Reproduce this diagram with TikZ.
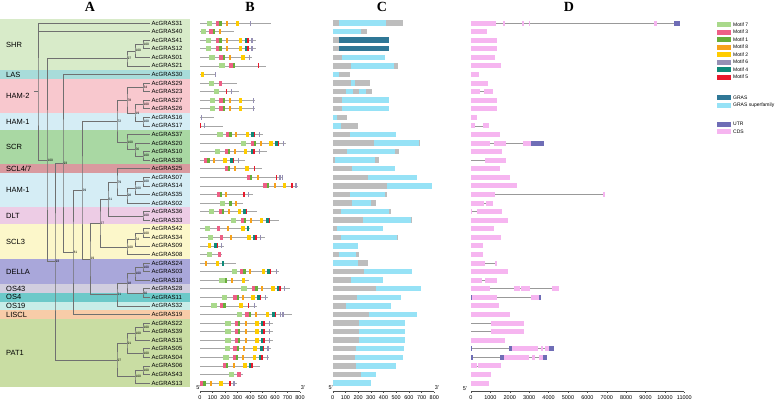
\documentclass[tikz,border=0pt]{standalone}
\usepackage{fontspec}
\setmainfont{Liberation Sans}
\newfontfamily\headfont{Liberation Serif}

\definecolor{treegray}{HTML}{707070}
\definecolor{bshr}{HTML}{D8EBC9}
\definecolor{blas}{HTML}{A8DCDA}
\definecolor{bhamtwo}{HTML}{F8C8CE}
\definecolor{bhamone}{HTML}{D5EDF5}
\definecolor{bscr}{HTML}{A9D8A3}
\definecolor{bsclf}{HTML}{D99A9F}
\definecolor{bdlt}{HTML}{EDCCE5}
\definecolor{bsclt}{HTML}{FCF7CA}
\definecolor{bdella}{HTML}{A9A7DA}
\definecolor{bosft}{HTML}{D1CEDF}
\definecolor{bosf}{HTML}{6CC9C9}
\definecolor{bosn}{HTML}{C8EDE8}
\definecolor{bliscl}{HTML}{F8CCA8}
\definecolor{bpat}{HTML}{C9DDA3}
\definecolor{mseven}{HTML}{A9D98B}
\definecolor{mthree}{HTML}{EE5F86}
\definecolor{mone}{HTML}{67AE3A}
\definecolor{meight}{HTML}{F7A21B}
\definecolor{mtwo}{HTML}{FFCC00}
\definecolor{msix}{HTML}{9690B4}
\definecolor{mfour}{HTML}{0E8A7A}
\definecolor{mfive}{HTML}{E8192C}
\definecolor{gras}{HTML}{2F7796}
\definecolor{grasfam}{HTML}{96E2F6}
\definecolor{utr}{HTML}{6F6DB6}
\definecolor{cds}{HTML}{F6B5F0}
\definecolor{barg}{HTML}{BDBDBD}

\begin{document}
\begin{tikzpicture}[x=1pt, y=-1pt,
    branch/.style={draw=treegray, line width=0.5pt},
    gname/.style={anchor=west, inner sep=0, font=\fontsize{6}{7}\selectfont},
    grp/.style={anchor=west, inner sep=0, font=\fontsize{7.5}{9}\selectfont},
    boot/.style={anchor=west, inner sep=0.3pt, font=\fontsize{3.3}{4}\selectfont},
    head/.style={font=\headfont\bfseries\fontsize{14}{16}\selectfont},
    motif/.style={anchor=west, inner sep=0, outer sep=0, minimum height=5pt},
    m7/.style={motif, fill=mseven, minimum width=5.3pt},
    m3/.style={motif, fill=mthree, minimum width=3.3pt},
    m1/.style={motif, fill=mone, minimum width=2.3pt},
    m8/.style={motif, fill=meight, minimum width=2pt},
    m2/.style={motif, fill=mtwo, minimum width=3.3pt},
    m6/.style={motif, fill=msix, minimum width=1.3pt},
    m4/.style={motif, fill=mfour, minimum width=2.7pt},
    m5/.style={motif, fill=mfive, minimum width=1.3pt},
    bline/.style={draw=black!35, line width=0.7pt},
    intron/.style={draw=black!40, line width=0.7pt},
    axline/.style={draw=black!70, line width=0.4pt},
    axlab/.style={inner sep=0, font=\fontsize{5.5}{6}\selectfont},
    lgd/.style={anchor=west, inner sep=0, font=\fontsize{5}{6}\selectfont}
]
\useasboundingbox (0,0) rectangle (777,402);

% subfamily bands
\foreach \g/\a/\b/\c in {SHR/1/6/bshr, LAS/7/7/blas, HAM-2/8/11/bhamtwo, HAM-1/12/13/bhamone,
    SCR/14/17/bscr, {SCL4/7}/18/18/bsclf, HAM-1/19/22/bhamone, DLT/23/24/bdlt, SCL3/25/28/bsclt,
    DELLA/29/31/bdella, OS43/32/32/bosft, OS4/33/33/bosf, OS19/34/34/bosn, LISCL/35/35/bliscl,
    PAT1/36/43/bpat} {
  \fill[\c] (0,{23+(\a-1)*60/7-30/7}) rectangle (190,{23+(\b-1)*60/7+30/7});
  \node[grp] (grp\a) at (6,{23+(\a+\b-2)*30/7}) {\g};
}

% headings
\node[head] (hA) at (90,7) {A};
\node[head] (hB) at (250,7) {B};
\node[head] (hC) at (382,7) {C};
\node[head] (hD) at (569,7) {D};

% leaves
\foreach \g [count=\i] in {31,40,41,12,01,21,30,29,23,27,26,16,17,37,20,10,38,25,07,14,35,02,
    36,33,42,34,09,08,24,03,18,28,11,32,19,22,39,15,05,04,06,43,13} {
  \coordinate (g\g) at (150,{23+(\i-1)*60/7});
  \node[gname] (t\g) at (151.5,{23+(\i-1)*60/7}) {AcGRAS\g};
}

% inner nodes with support values
\foreach \n/\x/\y/\b in {shrA/143/44.43/100, shrB/135/50.86/100, shrC/127/58.36/97,
    hamA/143/87.29/34, hamB/143/104.43/100, hamC/143/121.57/100, hamD/135/113.00/19,
    hamE/127/100.14/78, scrA/143/155.86/100, scrB/135/149.43/56, scrC/127/141.93/100,
    nodeK/117/121.04/72, hmA/143/181.57/100, hmB/135/188.00/100, hmC/127/195.50/98,
    hmD/117/182.10/79, dltA/143/215.86/100, nodeJ/108/198.98/61, sclA/143/233.00/100,
    sclB/135/239.43/54, sclC/127/246.93/100, nodeI/100/222.95/27, delA/143/267.29/100,
    delB/135/273.71/100, osA/143/293.00/60, delC/127/283.36/18, nodeH/117/294.61/21,
    nodeG/90/258.78/19, nodeF/82/189.91/29, nodeE/73/252.17/81, nodeD/63/163.30/93,
    patA/143/327.29/100, patB/135/333.71/100, patC/143/353.00/100, patD/127/343.36/91,
    patE/143/370.14/100, patF/135/376.57/100, patG/117/359.96/97, nodeC/55/261.63/93,
    nodeB/47/160.00/100} {
  \coordinate (\n) at (\x,\y);
  \node[boot] (\n-bs) at (\n) {\b};
}
\coordinate (root) at (38,91.5);
\coordinate (stub) at (34,91.5);

% tree
\foreach \p/\a/\b in {shrA/g41/g12, shrB/shrA/g01, shrC/shrB/g21, hamA/g29/g23, hamB/g27/g26,
    hamC/g16/g17, hamD/hamB/hamC, hamE/hamA/hamD, scrA/g10/g38, scrB/g20/scrA, scrC/g37/scrB,
    nodeK/hamE/scrC, hmA/g07/g14, hmB/hmA/g35, hmC/hmB/g02, hmD/g25/hmC, dltA/g36/g33,
    nodeJ/hmD/dltA, sclA/g42/g34, sclB/sclA/g09, sclC/sclB/g08, nodeI/nodeJ/sclC,
    delA/g24/g03, delB/delA/g18, osA/g28/g11, delC/delB/osA, nodeH/delC/g32,
    nodeG/nodeI/nodeH, nodeF/nodeK/nodeG, nodeE/nodeF/g19, nodeD/g30/nodeE,
    patA/g22/g39, patB/patA/g15, patC/g05/g04, patD/patB/patC, patE/g06/g43, patF/patE/g13,
    patG/patD/patF, nodeC/nodeD/patG, nodeB/shrC/nodeC, root/g31/nodeB}
  \draw[branch] (\a) -| (\p) |- (\b);
\draw[branch] (root |- g40) -- (g40);
\draw[branch] (stub) -- (root);

% B: conserved motifs
\foreach \r/\e/\ms in {
    1/270.7/{7/206.7,3/216,1/219.3,8/226,2/236,6/250},
    2/234/{7/200.7,3/209.3,1/212.7,8/219.3},
    3/256/{7/206,3/216,1/219.3,8/226,2/238.7,4/244.7,5/247.4,6/251.3},
    4/256/{7/206,3/216,1/219.3,8/226,2/238.7,4/244.7,5/247.4,6/251.3},
    5/251.7/{7/209.3,3/219.3,1/222.6,8/228.7,2/241.3,6/248.7},
    6/266/{7/219.3,3/229.3,1/232.6,5/258},
    7/216/{2/200.7,6/214.7},
    8/236.7/{7/208.7,3/218.7},
    9/239.3/{7/214,5/226,6/230.7},
    10/254.7/{7/210,3/219.3,1/222.6,8/228.7,2/238.7,6/252.7},
    11/254.7/{7/210,3/219.3,1/222.6,8/228.7,2/238.7,6/252.7},
    12/214/{6/200.7},
    13/222.7/{5/200,6/204},
    14/263.3/{7/217.3,3/226,1/229.3,8/235.3,2/246,4/251.3,5/254,6/258.7},
    15/286/{7/240.7,3/250.7,1/254,8/260,2/269.3,4/275.3,5/278,6/282.7},
    16/267.3/{7/214.7,3/224.7,1/228,8/234,2/244,4/250.7,5/253.4,6/258.7},
    17/245/{3/204,1/207.3,8/213.3,2/223.3,4/230,5/232.7,6/238},
    18/261.7/{3/224.7,1/228,8/234,2/245.3,5/254},
    19/283.3/{3/246.7,1/250,8/256.7,5/276,6/279.3,6/281.6},
    20/298.3/{3/263.3,1/266.6,8/274,2/282.7,5/291.3,6/295.3},
    21/253.3/{3/216.7,1/220,8/225.3,5/243.3,6/248},
    22/242.7/{7/220,1/229.3,8/235.3},
    23/257.3/{7/208.7,3/218.7,1/222,8/228,2/238,4/243.3,5/246},
    24/279.3/{7/230.7,3/240.7,1/244,8/250,2/260,4/266,5/268.7},
    25/250/{7/204.7,3/216.7,8/226.7,2/241.3,4/246.7},
    26/265/{7/208,3/220,8/230,2/247.3,4/252.7,5/255.4,6/260},
    27/224/{2/208,4/214,5/216.7,6/220.7},
    28/221.7/{7/206.7,3/218},
    29/236/{8/205,2/216,4/221.7},
    30/279.3/{7/232,3/240,1/243.3,8/249.3,2/262,4/267.3,5/270,6/276},
    31/249.3/{7/219.3,1/224.7,8/230.7,2/242},
    32/290/{7/241.3,3/252,1/255.3,8/261.3,2/271.3,4/276.7,5/279.4,6/284},
    33/268.3/{7/222,3/233.3,1/236.6,8/242,2/251.3,4/257.3,5/260,6/264.7},
    34/257.3/{7/211.3,3/220,1/223.3,2/239.3,5/248,6/254},
    35/292/{7/236.7,3/245.3,1/248.6,8/255.3,2/266,4/272,5/274.7,6/280,6/282.3},
    36/273.3/{7/225.3,3/234.7,1/238,8/244.7,2/255.3,4/260.7,5/263.4,6/268.7},
    37/273.3/{7/225.3,3/234.7,1/238,8/244.7,2/255.3,4/260.7,5/263.4,6/268.7},
    38/273.3/{7/225.3,3/234.7,1/238,8/244.7,2/255.3,4/260.7,5/263.4,6/268.7},
    39/270.7/{7/224.7,3/233.3,1/236.6,8/243.3,2/253.3,4/260,5/262.7,6/267.3},
    40/269.3/{7/223.3,3/232.7,1/236,8/242,2/252.7,4/258.7,5/261.4,6/266.7},
    41/260/{3/222.7,1/226,8/232.7,2/243.3,4/248.7,5/251.4},
    42/243.3/{7/228.7,3/237.3},
    43/237.3/{3/200,1/203.3,8/210,2/219.3,5/229.3,6/233.3}} {
  \pgfmathsetmacro\y{23+(\r-1)*60/7}
  \draw[bline] (200,\y) -- (\e,\y);
  \foreach \m/\x in \ms {\node[m\m] (b\r-\m) at (\x,\y) {};}
}

% C: domains
\foreach \r/\e/\ss in {
    1/403.3/{grasfam/339.3/386}, 2/367.3/{grasfam/332.7/360.7}, 3/389.3/{gras/339.3/388.7},
    4/389.3/{gras/339.3/388.7}, 5/385/{grasfam/342/385}, 6/398.3/{grasfam/351.3/394},
    7/350/{grasfam/332.7/338.7}, 8/370/{grasfam/351.3/355},
    9/372.3/{grasfam/346/352.7,grasfam/359.3/366}, 10/388.7/{grasfam/342/388.7},
    11/388.7/{grasfam/342/388.7}, 12/346.7/{grasfam/332.7/337.3}, 13/358.3/{grasfam/332.7/341.3},
    14/396/{grasfam/350/396}, 15/420/{grasfam/374/419.3}, 16/399.3/{grasfam/347.3/395},
    17/378.7/{grasfam/334.7/374.7}, 18/395.3/{grasfam/352/395.3}, 19/417.3/{grasfam/368/417.3},
    20/432/{grasfam/386.7/432}, 21/387.3/{grasfam/350/384.7}, 22/376/{grasfam/352/370.7},
    23/390.7/{grasfam/341.3/389.3}, 24/412/{grasfam/363.3/411.3}, 25/383.3/{grasfam/337.3/383.3},
    26/398/{grasfam/340.7/397.3}, 27/358.3/{grasfam/332.7/358.3}, 28/358.7/{grasfam/339.3/356},
    29/368.3/{grasfam/332.7/358}, 30/412/{grasfam/364/412}, 31/382.7/{grasfam/350.7/382.7},
    32/421.3/{grasfam/376/421.3}, 33/401.3/{grasfam/357.3/401.3}, 34/391.3/{grasfam/346/391.3},
    35/416.7/{grasfam/368.7/416.7}, 36/405.3/{grasfam/358.7/405.3}, 37/405.3/{grasfam/358.7/405.3},
    38/405.3/{grasfam/358.7/405.3}, 39/404/{grasfam/356/404}, 40/403.3/{grasfam/355.3/403.3},
    41/396.3/{grasfam/356/396.3}, 42/376/{grasfam/361.3/376}, 43/370.7/{grasfam/332.7/370.7}} {
  \pgfmathsetmacro\y{23+(\r-1)*60/7}
  \fill[barg] (332.7,\y-2.65) rectangle (\e,\y+2.65);
  \foreach \t/\a/\b in \ss {\fill[\t] (\a,\y-2.65) rectangle (\b,\y+2.65);}
}

% D: gene structure
\foreach \r/\e/\bx in {
    1/680/{cds/471/496,cds/503.3/504.5,cds/522.3/524,cds/528.7/529.8,cds/654.3/656.7,utr/674/680},
    2/486.7/{cds/471/486.7}, 3/496.7/{cds/471/496.7}, 4/496.7/{cds/471/496.7},
    5/495/{cds/471/495}, 6/501.3/{cds/471/501.3}, 7/479/{cds/471/479}, 8/488/{cds/471/488},
    9/493.3/{cds/471/480,cds/484/493.3}, 10/496.7/{cds/471/496.7}, 11/496.7/{cds/471/496.7},
    12/477.3/{cds/471/477.3}, 13/489.3/{cds/471/475.3,cds/483.3/489.3}, 14/500/{cds/471/500},
    15/544/{cds/471/490,cds/494/506,cds/522.7/531.3,utr/531.3/544},
    16/501.7/{cds/471/501.7}, 17/505.7/{cds/485/505.7}, 18/500/{cds/471/500},
    19/510/{cds/471/510}, 20/516.7/{cds/471/516.7},
    21/604.7/{cds/471/474.7,cds/475.3/495.3,cds/603.3/604.7},
    22/492.7/{cds/471/484,cds/486/492.7}, 23/502/{cds/471/472,cds/476.7/502},
    24/508/{cds/471/508}, 25/494/{cds/471/494}, 26/501.3/{cds/471/501.3},
    27/482.7/{cds/471/482.7}, 28/482.7/{cds/471/482.7},
    29/496.7/{cds/471/485.3,cds/495.3/496.7}, 30/508/{cds/471/508},
    31/496.7/{cds/471/481.7,cds/484.7/496.7},
    32/559.3/{cds/471/490,cds/514/520,cds/520.7/530,cds/552.3/559.3},
    33/541.3/{utr/471/472,cds/472/496.7,cds/531.3/538.7,utr/538.7/541.3},
    34/498.7/{cds/471/498.7}, 35/510/{cds/471/510}, 36/524/{cds/491/524},
    37/524/{cds/491/524}, 38/504.7/{cds/471/504.7},
    39/554.3/{utr/471/472,utr/509.3/511.7,cds/511.7/538,cds/540.7/543.3,cds/545.3/548.7,utr/548.7/554.3},
    40/547.3/{utr/471/472.7,utr/500/504,cds/504/529.3,cds/532/535.3,cds/538.7/542.7,utr/542.7/547.3},
    41/500.7/{cds/471/476.7,cds/478.3/500.7}, 42/491.3/{cds/471/491.3},
    43/488.7/{cds/471/488.7}} {
  \pgfmathsetmacro\y{23+(\r-1)*60/7}
  \draw[intron] (471,\y) -- (\e,\y);
  \foreach \t/\a/\b in \bx {\fill[\t] (\a,\y-2.5) rectangle (\b,\y+2.5);}
}

% axes
\draw[axline] (200,391.5) -- (300,391.5);
\foreach \v in {0,100,...,800} {
  \draw[axline] ({200+\v/8},391.5) -- ({200+\v/8},393);
  \node[axlab] (bx\v) at ({200+\v/8},397.5) {\v};
}
\node[axlab] (bl5) at (198.5,388) {5'};
\node[axlab] (bl3) at (303,388) {3'};
\draw[axline] (332.7,391.5) -- (434.3,391.5);
\foreach \v in {0,100,...,800} {
  \draw[axline] ({332.7+\v*0.127},391.5) -- ({332.7+\v*0.127},393);
  \node[axlab] (cx\v) at ({332.7+\v*0.127},397.5) {\v};
}
\node[axlab] (cl5) at (330.7,388) {5'};
\node[axlab] (cl3) at (437,388) {3'};
\draw[axline] (471,391.5) -- (684.4,391.5);
\foreach \v in {0,1000,...,11000} {
  \draw[axline] ({471+\v*0.0194},391.5) -- ({471+\v*0.0194},393);
  \node[axlab] (dx\v) at ({471+\v*0.0194},397.5) {\v};
}
\node[axlab] (dl5) at (465,388.5) {5'};

% legend
\foreach \c/\t [count=\i] in {mseven/Motif 7, mthree/Motif 3, mone/Motif 1, meight/Motif 8,
    mtwo/Motif 2, msix/Motif 6, mfour/Motif 4, mfive/Motif 5} {
  \fill[\c] (717.3,{24.7+(\i-1)*7.5-2.65}) rectangle (731,{24.7+(\i-1)*7.5+2.65});
  \node[lgd] (lm\i) at (733,{24.7+(\i-1)*7.5}) {\t};
}
\foreach \c/\t/\y in {gras/GRAS/97.7, grasfam/GRAS superfamily/105.2, utr/UTR/124.3, cds/CDS/131.8} {
  \fill[\c] (717.3,\y-2.65) rectangle (731,\y+2.65);
  \node[lgd] (l\c) at (733,\y) {\t};
}
\end{tikzpicture}
\end{document}
